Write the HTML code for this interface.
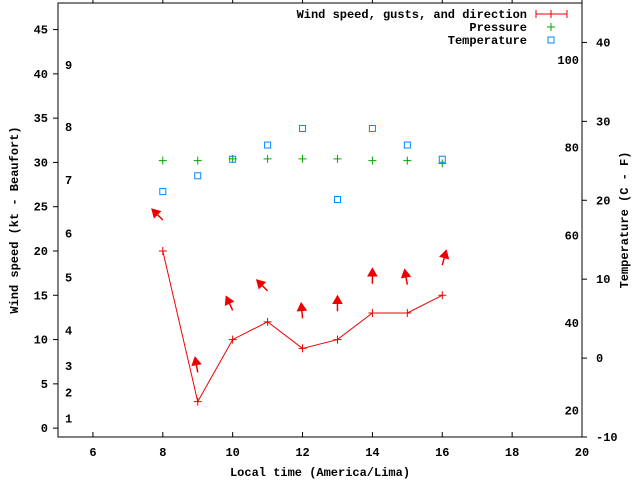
<!DOCTYPE html>
<html><head><meta charset="utf-8"><style>
body{margin:0;background:#fff}
svg text{font-family:"Liberation Mono","DejaVu Sans Mono",monospace;font-size:12px;font-weight:bold}
</style></head><body>
<svg id="c" width="640" height="480" viewBox="0 0 640 480">
<rect width="640" height="480" fill="#fff"/>
<g id="axes"></g><g id="marks"></g>
</svg>
<script>
const hours=[8,9,10,11,12,13,14,15,16];
const wind=[20,3,10,12,9,10,13,13,15];
const gusts=[23.5,6.3,13.3,15.5,12.4,13.2,16.3,16.2,18.4];
const direction=[315,350,335,315,355,0,0,350,15];
const pressure=[30.2,30.2,30.4,30.4,30.4,30.4,30.2,30.2,29.9];
const tempC=[21.1,23.1,25.2,27,29.1,20.1,29.1,27,25.2];
const xTicks=[6,8,10,12,14,16,18,20];
const yTicks=[0,5,10,15,20,25,30,35,40,45];
const cTicks=[-10,0,10,20,30,40];
const fTicks=[20,40,60,80,100];
const bftLabels=[1,2,3,4,5,6,7,8,9];
const bftLimits=[1.1,4,7,11,17,22,28,34,41];
const L=58,R=582,T=3,B=437;
const X=v=>L+(v-5)/15*(R-L);
const Y=v=>B-(v+1)/49*(B-T);
const YC=c=>B-(c+10)/55*(B-T);
const YF=f=>YC((f-32)*5/9);
const NS='http://www.w3.org/2000/svg';
function mk(p,t,a,txt){const e=document.createElementNS(NS,t);for(const k in a)e.setAttribute(k,a[k]);if(txt!==undefined)e.textContent=txt;document.getElementById(p).appendChild(e);return e;}
let e=mk('axes','rect',{x:L,y:T,width:R-L,height:B-T,fill:'none',stroke:'#000','stroke-width':1});


xTicks.forEach(v=>{
 mk('axes','line',{x1:X(v),x2:X(v),y1:B,y2:B-5,stroke:'#000'});
 mk('axes','line',{x1:X(v),x2:X(v),y1:T,y2:T-3,stroke:'#000'});
 e=mk('axes','text',{x:X(v),y:B+19,'text-anchor':'middle'},v);
 
 
});
yTicks.forEach(v=>{
 mk('axes','line',{x1:L,x2:L-5,y1:Y(v),y2:Y(v),stroke:'#000'});
 e=mk('axes','text',{x:L-10,y:Y(v)+4,'text-anchor':'end'},v);
 
 
});
cTicks.forEach(v=>{
 mk('axes','line',{x1:R,x2:R+5,y1:YC(v),y2:YC(v),stroke:'#000'});
 e=mk('axes','text',{x:R+14,y:YC(v)+4},v);
 
 
});
fTicks.forEach(v=>{
 e=mk('axes','text',{x:R-3,y:YF(v)+4,'text-anchor':'end'},v);
 
 
});
bftLabels.forEach((v,i)=>{
 e=mk('axes','text',{x:65,y:Y(bftLimits[i])+4},v);
 
 
});
e=mk('axes','text',{x:320,y:476,'text-anchor':'middle'},'Local time (America/Lima)');


e=mk('axes','text',{x:18,y:220,'text-anchor':'middle',transform:'rotate(-90 18 220)'},'Wind speed (kt - Beaufort)');


e=mk('axes','text',{x:628,y:220,'text-anchor':'middle',transform:'rotate(-90 628 220)'},'Temperature (C - F)');


// legend
e=mk('axes','text',{x:527,y:18,'text-anchor':'end'},'Wind speed, gusts, and direction');


mk('axes','line',{x1:536,x2:567,y1:14,y2:14,stroke:'#e00'});
[536,551,567].forEach(x=>mk('axes','line',{x1:x,x2:x,y1:10,y2:18,stroke:'#e00'}));
e=mk('axes','text',{x:527,y:31,'text-anchor':'end'},'Pressure');


mk('axes','path',{d:'M547 27h8M551 23v8',stroke:'#0a0'});
e=mk('axes','text',{x:527,y:44,'text-anchor':'end'},'Temperature');


mk('axes','rect',{x:548,y:37,width:6,height:6,fill:'none',stroke:'#08f'});
// wind line
e=mk('marks','polyline',{points:hours.map((h,i)=>X(h)+','+Y(wind[i])).join(' '),fill:'none',stroke:'#e00'});


hours.forEach((h,i)=>{
 const x=X(h),y=Y(wind[i]);
 e=mk('marks','path',{d:`M${x-4} ${y}h8M${x} ${y-4}v8`,stroke:'#e00'});
 
 
 const tx=X(h),ty=Y(gusts[i]),a=direction[i]*Math.PI/180,len=15;
 const dx=Math.sin(a),dy=-Math.cos(a);
 const hx=tx+dx*len,hy=ty+dy*len;
 const px=-dy,py=dx;
 e=mk('marks','path',{d:`M${tx} ${ty}L${hx} ${hy}M${hx} ${hy}L${hx-dx*7+px*4} ${hy-dy*7+py*4}L${hx-dx*7-px*4} ${hy-dy*7-py*4}Z`,stroke:'#e00',fill:'#e00','stroke-width':1.5});
 
 
 const py2=Y(pressure[i]);
 e=mk('marks','path',{d:`M${x-4} ${py2}h8M${x} ${py2-4}v8`,stroke:'#0a0'});
 
 
 const cy=YC(tempC[i]);
 e=mk('marks','rect',{x:x-3,y:cy-3,width:6,height:6,fill:'none',stroke:'#08f'});
 
 
});
</script>
</body></html>
